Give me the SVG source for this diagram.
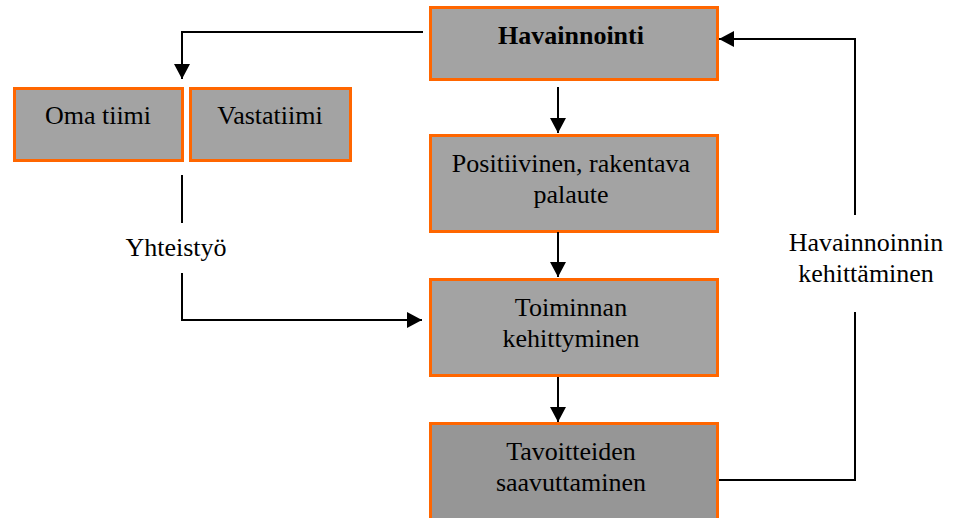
<svg xmlns="http://www.w3.org/2000/svg" width="955" height="518" viewBox="0 0 955 518">
  <defs>
    <marker id="arrow" markerUnits="userSpaceOnUse" markerWidth="16" markerHeight="16" refX="15" refY="8" orient="auto">
      <path d="M0,0 L15,8 L0,16 z" fill="#000"/>
    </marker>
    <style>
      .box { fill: #a3a3a3; stroke: #ff6600; stroke-width: 3; }
      .box.dark { fill: #969696; }
      text { font-family: "Times New Roman", "Liberation Serif", Tinos, "DejaVu Serif", serif; font-size: 26px; fill: #000; text-anchor: middle; }
      .b { font-weight: bold; }
      .line { fill: none; stroke: #000; stroke-width: 2; }
    </style>
  </defs>
  <rect width="955" height="518" fill="#fff"/>

  <g id="havainnointi">
    <rect class="box" x="430.5" y="7.5" width="287" height="72"/>
    <text class="b" x="571" y="44">Havainnointi</text>
  </g>

  <g id="oma-tiimi">
    <rect class="box" x="14.5" y="88.5" width="168" height="72"/>
    <text x="98" y="124">Oma tiimi</text>
  </g>

  <g id="vastatiimi">
    <rect class="box" x="190.5" y="88.5" width="160" height="72"/>
    <text x="270" y="124">Vastatiimi</text>
  </g>

  <g id="palaute">
    <rect class="box" x="430.5" y="135.5" width="287" height="96"/>
    <text x="571" y="172">Positiivinen, rakentava</text>
    <text x="571" y="203">palaute</text>
  </g>

  <g id="toiminnan-kehittyminen">
    <rect class="box" x="430.5" y="279.5" width="287" height="96"/>
    <text x="571" y="316">Toiminnan</text>
    <text x="571" y="347">kehittyminen</text>
  </g>

  <g id="tavoitteiden-saavuttaminen">
    <rect class="box dark" x="430.5" y="423.5" width="287" height="100"/>
    <text x="571" y="460">Tavoitteiden</text>
    <text x="571" y="491">saavuttaminen</text>
  </g>

  <g id="connectors">
    <!-- Havainnointi -> teams -->
    <path class="line" d="M423,32 H182 V79" marker-end="url(#arrow)"/>
    <!-- main vertical chain -->
    <path class="line" d="M558,87 V133" marker-end="url(#arrow)"/>
    <path class="line" d="M558,232 V277" marker-end="url(#arrow)"/>
    <path class="line" d="M558,377 V422" marker-end="url(#arrow)"/>
    <!-- Yhteistyö -->
    <path class="line" d="M182,175 V223"/>
    <path class="line" d="M182,273 V320 H422" marker-end="url(#arrow)"/>
    <text x="176" y="256">Yhteistyö</text>
    <!-- feedback loop -->
    <path class="line" d="M719,480 H855 V312"/>
    <path class="line" d="M855,215 V39 H719" marker-end="url(#arrow)"/>
    <text x="866" y="251">Havainnoinnin</text>
    <text x="866" y="282">kehittäminen</text>
  </g>
</svg>
